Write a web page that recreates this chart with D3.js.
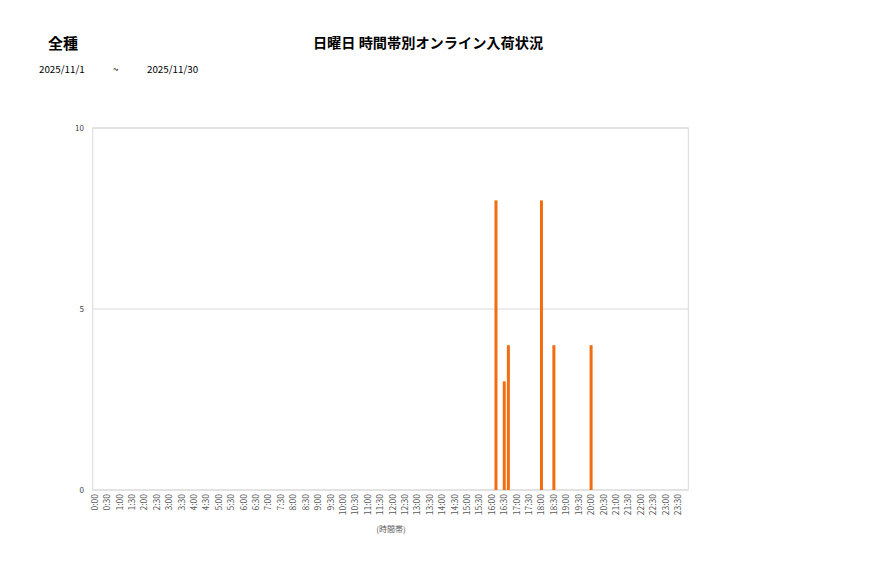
<!DOCTYPE html>
<html>
<head>
<meta charset="utf-8">
<script src="https://cdn.jsdelivr.net/npm/d3@7"></script>
<style>
  body { margin: 0; background: #fff; }
  text { font-family: "Noto Sans CJK JP", "Noto Sans", sans-serif; }
</style>
</head>
<body>
<svg width="877" height="578"></svg>
<script>
// 10 minute slots, 0:00 .. 23:50
const slots = d3.range(144).map(i => Math.floor(i / 6) + ":" + String((i % 6) * 10).padStart(2, "0"))
// only non-zero counts, everything else is 0
const hitSlots = ["16:10", "16:30", "16:40", "18:00", "18:30", "20:00"]
const hitCounts = [8, 3, 4, 8, 4, 4]
const yTicks = [0, 5, 10]

const counts = slots.map(s => {
  const k = hitSlots.indexOf(s)
  return k < 0 ? 0 : hitCounts[k]
})

const svg = d3.select("svg")
const pLeft = 92.7, pRight = 688.3, pTop = 128, pBottom = 490

const xc = d3.scaleBand().domain(slots).range([pLeft, pRight])
const y = d3.scaleLinear().domain([0, 10]).range([pBottom, pTop])

// header
svg.append("text").attr("x", 48).attr("y", 49).attr("font-size", 15).attr("font-weight", "bold").text("全種")
svg.append("text").attr("x", 39).attr("y", 73).attr("font-size", 9.8).text("2025/11/1")
svg.append("text").attr("x", 113).attr("y", 73).attr("font-size", 9.8).text("~")
svg.append("text").attr("x", 147).attr("y", 73).attr("font-size", 9.8).text("2025/11/30")
svg.append("text").attr("x", 428).attr("y", 48).attr("font-size", 14.2).attr("font-weight", "bold")
  .attr("text-anchor", "middle").text("日曜日 時間帯別オンライン入荷状況")

// grid
svg.append("g").selectAll("line").data(yTicks).enter().append("line")
  .attr("x1", pLeft).attr("x2", pRight)
  .attr("y1", d => y(d)).attr("y2", d => y(d))
  .attr("stroke", "#d9d9d9").attr("stroke-width", 1)
svg.append("rect").attr("x", pLeft).attr("y", pTop).attr("width", pRight - pLeft).attr("height", pBottom - pTop)
  .attr("fill", "none").attr("stroke", "#d9d9d9")

// y labels
svg.append("g").selectAll("text").data(yTicks).enter().append("text")
  .attr("x", 84).attr("y", d => y(d) + 3).attr("text-anchor", "end")
  .attr("font-size", 8).attr("fill", "#404040").text(d => d)

// bars
svg.append("g").selectAll("rect").data(counts).enter().append("rect")
  .attr("x", (d, i) => xc(slots[i]) + xc.bandwidth() / 2 - 1.5)
  .attr("width", 3)
  .attr("y", d => y(d))
  .attr("height", d => pBottom - y(d))
  .attr("fill", "#f26d0f")

// x labels every 30 min
const labelSlots = slots.filter((s, i) => i % 3 == 0)
svg.append("g").selectAll("text").data(labelSlots).enter().append("text")
  .attr("transform", d => "translate(" + (xc(d) + xc.bandwidth() / 2 + 3) + "," + (pBottom + 4) + ") rotate(-90)")
  .attr("text-anchor", "end").attr("font-size", 8.5).attr("fill", "#595959").text(d => d)

svg.append("text").attr("x", 391).attr("y", 532).attr("text-anchor", "middle")
  .attr("font-size", 8).attr("fill", "#595959").text("(時間帯)")
</script>
</body>
</html>
